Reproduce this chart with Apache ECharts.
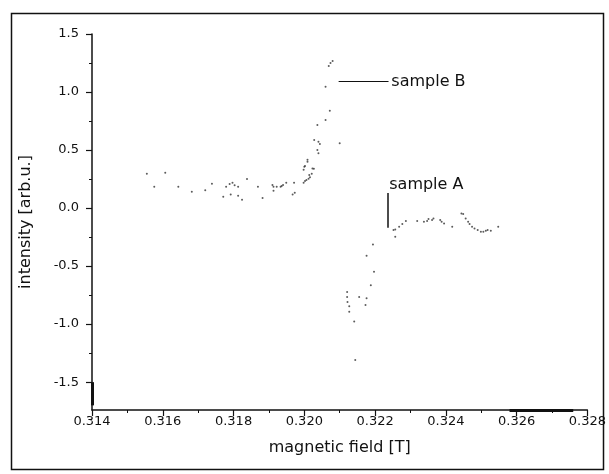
<!DOCTYPE html>
<html>
<head>
<meta charset="utf-8">
<script src="https://cdn.jsdelivr.net/npm/echarts@6/dist/echarts.min.js"></script>
<style>
html,body{margin:0;padding:0;background:#fff;}
#c{width:609px;height:474px;}
</style>
</head>
<body>
<div id="c"></div>
<script>
// ---- data ----
var sampleB = [
  [0.31555,0.296],[0.31576,0.184],[0.31607,0.304],[0.31644,0.184],[0.31682,0.141],
  [0.31720,0.153],[0.31739,0.209],[0.31771,0.097],[0.31779,0.184],[0.31789,0.207],
  [0.31792,0.118],[0.31797,0.218],[0.31803,0.196],[0.31813,0.184],[0.31813,0.106],
  [0.31824,0.072],[0.31838,0.250],[0.31869,0.184],[0.31882,0.086],[0.31910,0.198],
  [0.31913,0.184],[0.31913,0.149],[0.31922,0.184],[0.31933,0.184],[0.31936,0.190],
  [0.31940,0.198],[0.31949,0.218],[0.31967,0.118],[0.31973,0.132],[0.31971,0.218],
  [0.31998,0.218],[0.32002,0.233],[0.32006,0.241],[0.32012,0.253],[0.32016,0.265],
  [0.32021,0.296],[0.32027,0.339],[0.31998,0.330],[0.32002,0.362],[0.32009,0.416],
  [0.32023,0.342],[0.32014,0.284],[0.32000,0.356],[0.32009,0.399],[0.32028,0.586],
  [0.32040,0.572],[0.32044,0.552],[0.32037,0.500],[0.32040,0.472],[0.32037,0.716],
  [0.32060,0.759],[0.32072,0.839],[0.32060,1.046],[0.32069,1.224],[0.32074,1.250],
  [0.32080,1.267],[0.32100,0.558]
];
var sampleA = [
  [0.32121,-0.724],[0.32121,-0.767],[0.32122,-0.810],[0.32127,-0.845],[0.32127,-0.894],
  [0.32141,-0.977],[0.32144,-1.310],[0.32155,-0.767],[0.32176,-0.778],[0.32173,-0.836],
  [0.32188,-0.666],[0.32197,-0.549],[0.32176,-0.411],[0.32194,-0.313],[0.32252,-0.190],
  [0.32257,-0.184],[0.32257,-0.247],[0.32268,-0.161],[0.32277,-0.138],[0.32287,-0.112],
  [0.32319,-0.112],[0.32338,-0.118],[0.32347,-0.112],[0.32351,-0.095],[0.32361,-0.103],
  [0.32365,-0.089],[0.32384,-0.103],[0.32388,-0.118],[0.32395,-0.132],[0.32418,-0.161],
  [0.32444,-0.046],[0.32449,-0.052],[0.32456,-0.089],[0.32463,-0.118],[0.32467,-0.138],
  [0.32474,-0.161],[0.32481,-0.175],[0.32490,-0.190],[0.32499,-0.204],[0.32506,-0.204],
  [0.32513,-0.196],[0.32518,-0.190],[0.32527,-0.196],[0.32548,-0.161]
];
var yTickValues = [-1.5,-1.0,-0.5,0.0,0.5,1.0,1.5];
var yMinorValues = [-1.25,-0.75,-0.25,0.25,0.75,1.25];
var xRange = [0.314, 0.328];
var yRange = [-1.74, 1.5];
// annotation leader lines (data coords) and label anchors
var lineB = [[0.32097,1.089],[0.32238,1.089]];
var lineA = [[0.32236,0.13],[0.32236,-0.17]];
var labelB = {text:'sample B', at:[0.32246,1.089]};
var labelA = {text:'sample A', at:[0.32240,0.198]};
// thick scan-artifact segments on the axes
var artY = [[0.314,-1.5],[0.314,-1.70]];
var artX = [[0.3258,-1.74],[0.3276,-1.74]];

var chart = echarts.init(document.getElementById('c'), null, {renderer:'canvas'});
var FONT = 'DejaVu Sans';
var INK = '#111';

function seg(p){ return [{coord:p[0]},{coord:p[1]}]; }

var option = {
  backgroundColor:'#fff',
  animation:false,
  grid:{left:92, right:12, top:34, bottom:64, containLabel:false},
  xAxis:{
    type:'value', min:xRange[0], max:xRange[1], interval:0.002,
    name:'magnetic field [T]', nameLocation:'middle', nameGap:30,
    nameTextStyle:{fontFamily:FONT, fontSize:16, color:INK},
    axisLine:{show:true, onZero:false, lineStyle:{color:INK, width:1.5}},
    axisTick:{show:true, inside:false, length:6, lineStyle:{color:INK, width:1.2}},
    minorTick:{show:true, splitNumber:2, length:3, lineStyle:{color:INK, width:1}},
    axisLabel:{fontFamily:FONT, fontSize:13, color:INK, margin:5,
      formatter:function(v){return v.toFixed(3);}},
    splitLine:{show:false}, minorSplitLine:{show:false}
  },
  yAxis:[{
    type:'value', min:yRange[0], max:yRange[1], position:'left',
    name:'intensity [arb.u.]', nameLocation:'middle', nameGap:58, nameRotate:90,
    nameTextStyle:{fontFamily:FONT, fontSize:16, color:INK},
    axisLine:{show:true, onZero:false, lineStyle:{color:INK, width:1.5}},
    axisTick:{show:true, length:6, customValues:yTickValues, lineStyle:{color:INK, width:1.2}},
    axisLabel:{fontFamily:FONT, fontSize:13, color:INK, margin:13, customValues:yTickValues,
      formatter:function(v){return Number(v).toFixed(1);}},
    splitLine:{show:false}
  },{
    type:'value', min:yRange[0], max:yRange[1], position:'left', offset:0,
    axisLine:{show:false},
    axisTick:{show:true, length:3, customValues:yMinorValues, lineStyle:{color:INK, width:1}},
    axisLabel:{show:false}, splitLine:{show:false}
  }],
  series:[{
    name:'sample B', type:'scatter', data:sampleB, symbolSize:2,
    itemStyle:{color:'#333'},
    markLine:{silent:true, symbol:['none','none'], animation:false,
      label:{show:false}, lineStyle:{color:INK, width:1.2, type:'solid'},
      data:[seg(lineB)]}
  },{
    name:'sample A', type:'scatter', data:sampleA, symbolSize:2,
    itemStyle:{color:'#333'},
    markLine:{silent:true, symbol:['none','none'], animation:false,
      label:{show:false}, lineStyle:{color:INK, width:1.5, type:'solid'},
      data:[seg(lineA)]}
  },{
    name:'artifacts', type:'line', data:[], silent:true,
    markLine:{silent:true, symbol:['none','none'], animation:false,
      label:{show:false}, lineStyle:{color:INK, width:3, type:'solid'},
      data:[seg(artY), seg(artX)]}
  }]
};
chart.setOption(option);

var pB = chart.convertToPixel({gridIndex:0}, labelB.at);
var pA = chart.convertToPixel({gridIndex:0}, labelA.at);
chart.setOption({
  graphic:[
    {type:'rect', left:9, top:11, shape:{x:0,y:0,width:592,height:456},
      style:{fill:'none', stroke:INK, lineWidth:1.5}, silent:true, z:-1},
    {type:'text', x:pB[0], y:pB[1], style:{text:labelB.text, fontFamily:FONT, fontSize:16,
      fill:INK, textAlign:'left', textVerticalAlign:'middle'}},
    {type:'text', x:pA[0], y:pA[1], style:{text:labelA.text, fontFamily:FONT, fontSize:16,
      fill:INK, textAlign:'left', textVerticalAlign:'middle'}}
  ]
});
</script>
</body>
</html>
